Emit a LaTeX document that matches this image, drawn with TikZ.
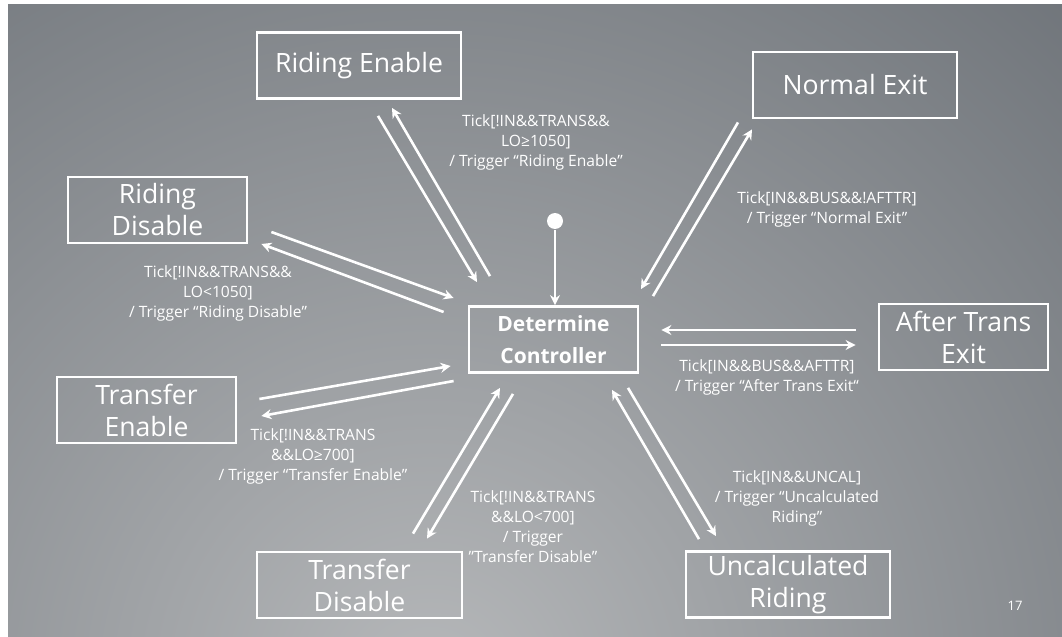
\documentclass[tikz,border=0pt]{standalone}
\usepackage{fontspec}
\setmainfont{Open Sans}
\usetikzlibrary{arrows.meta}
\definecolor{bgdark}{RGB}{86,92,99}
\definecolor{bglight}{RGB}{182,184,186}

\begin{document}
\begin{tikzpicture}[x=0.5pt,y=-0.5pt,>={Stealth[length=5pt,width=5pt]},line width=1.3pt,every text node part/.style={align=center},
  st/.style={draw=white,line width=1.4pt,text=white,inner sep=0pt,minimum height=33pt,font=\fontsize{13.3}{16}\selectfont},
  lbl/.style={text=white,font=\fontsize{7.8}{10}\selectfont}]
  \useasboundingbox (0,0) rectangle (1062,637);
  \fill[white] (0,0) rectangle (1062,637);
  \begin{scope}
    \clip (8,4) rectangle (1062,637);
    \fill[bgdark] (8,4) rectangle (1062,637);
    \shade[inner color=bglight,outer color=bgdark] (430,690) circle (1300);
  \end{scope}
  \node[st,minimum width=102pt]  (re)  at (359,65.5)    {Riding Enable};
  \node[st,minimum width=102pt]  (ne)  at (855,85)      {Normal Exit};
  \node[st,minimum width=89.5pt] (rd)  at (157.5,210)   {Riding\\Disable};
  \node[st,minimum width=84.5pt,font=\fontsize{10.5}{16}\selectfont\bfseries] (det) at (553.5,339.5) {Determine\\Controller};
  \node[st,minimum width=84.5pt] (ate) at (963.5,337)   {After Trans\\Exit};
  \node[st,minimum width=89.5pt] (te)  at (146.5,410)   {Transfer\\Enable};
  \node[st,minimum width=102.5pt] (td) at (359.5,585)   {Transfer\\Disable};
  \node[st,minimum width=102pt]  (uc)  at (788,584.5)   {Uncalculated\\Riding};
  \node[circle,fill=white,minimum size=8pt,inner sep=0pt] (init) at (555,221) {};
  \draw[white,->] (init) -- (init |- det.north);
  \draw[white,->] ([shift={(19,16)}]re.south) -- ([shift={(-76.5,-23)}]det.north);
  \draw[white,->] ([shift={(-63.5,-29)}]det.north) -- ([shift={(33,8)}]re.south);
  \draw[white,->] ([shift={(23,22)}]rd.east) -- ([shift={(-14,-41.5)}]det.west);
  \draw[white,->] ([shift={(-24,-27.5)}]det.west) -- ([shift={(13,34)}]rd.east);
  \draw[white,->] ([shift={(22,-11)}]te.east) -- ([shift={(-17,26.5)}]det.west);
  \draw[white,->] ([shift={(-14,41.5)}]det.west) -- ([shift={(24,6)}]te.east);
  \draw[white,->] ([shift={(53.5,-17)}]td.north) -- ([shift={(-53.5,14)}]det.south);
  \draw[white,->] ([shift={(-40.5,20)}]det.south) -- ([shift={(67.5,-12)}]td.north);
  \draw[white,->] ([shift={(-89,-11)}]uc.north) -- ([shift={(58.5,16)}]det.south);
  \draw[white,->] ([shift={(74.5,14)}]det.south) -- ([shift={(-72,-14)}]uc.north);
  \draw[white,->] ([shift={(-22,-7)}]ate.west) -- ([shift={(22,-9.5)}]det.east);
  \draw[white,->] ([shift={(22,5.5)}]det.east) -- ([shift={(-22,8)}]ate.west);
  \draw[white,->] ([shift={(-117,3)}]ne.south) -- ([shift={(87.5,-16)}]det.north);
  \draw[white,->] ([shift={(99.5,-9)}]det.north) -- ([shift={(-103,10)}]ne.south);
  \node[lbl] (lre)  at (536,142) {Tick[!IN\&\&TRANS\&\&\\LO≥1050]\\/ Trigger “Riding Enable”};
  \node[lbl] (lrd)  at (218,293) {Tick[!IN\&\&TRANS\&\&\\LO<1050]\\/ Trigger “Riding Disable”};
  \node[lbl] (lte)  at (313,456) {Tick[!IN\&\&TRANS\\\&\&LO≥700]\\/ Trigger “Transfer Enable”};
  \node[lbl] (ltd)  at (533,527) {Tick[!IN\&\&TRANS\\\&\&LO<700]\\/ Trigger\\”Transfer Disable”};
  \node[lbl] (luc)  at (797,498) {Tick[IN\&\&UNCAL]\\/ Trigger “Uncalculated\\Riding”};
  \node[lbl] (late) at (767,377) {Tick[IN\&\&BUS\&\&AFTTR]\\/ Trigger “After Trans Exit“};
  \node[lbl] (lne)  at (827,209) {Tick[IN\&\&BUS\&\&!AFTTR]\\/ Trigger “Normal Exit”};
  \node[text=white,font=\fontsize{6.5}{7}\selectfont] (pg) at (1015,606) {17};
\end{tikzpicture}
\end{document}
